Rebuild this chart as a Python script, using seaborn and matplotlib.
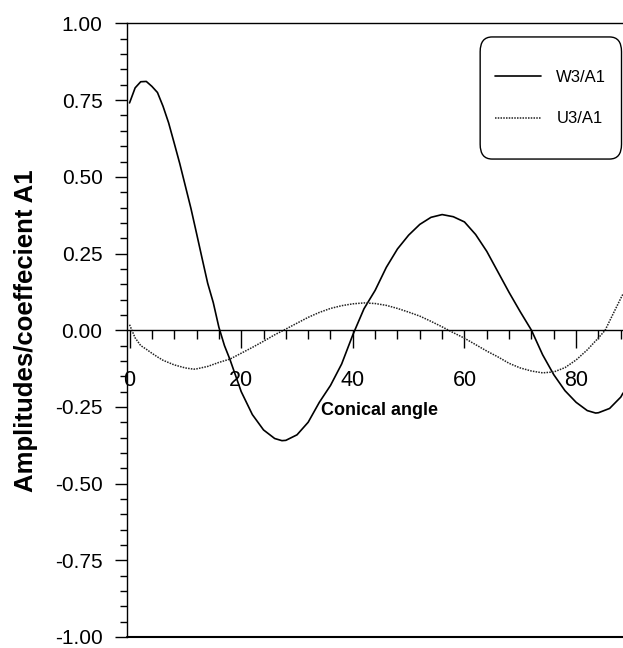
import matplotlib
matplotlib.use("Agg")
import matplotlib.pyplot as plt
from matplotlib.patches import FancyBboxPatch
from matplotlib.ticker import MultipleLocator, FormatStrFormatter
import seaborn as sns
import pandas as pd

# values
w3_angle = [0, 1, 2, 3, 4, 5, 6, 7, 8, 9, 10, 11, 12, 13, 14, 15, 16, 17, 18,
            20, 22, 24, 26, 27.3, 28, 30, 32, 34, 36, 38, 40, 42, 44, 46, 48,
            50, 52, 54, 56, 58, 60, 62, 64, 66, 68, 70, 71, 72, 74, 76, 78,
            80, 82, 83.5, 84, 86, 88, 88.4]
w3_a1 = [0.741, 0.790, 0.810, 0.811, 0.795, 0.775, 0.730, 0.676, 0.610,
         0.543, 0.470, 0.397, 0.316, 0.234, 0.153, 0.090, 0.010, -0.050,
         -0.096, -0.200, -0.275, -0.325, -0.353, -0.360, -0.359, -0.341,
         -0.300, -0.235, -0.180, -0.110, -0.015, 0.070, 0.130, 0.205, 0.265,
         0.310, 0.345, 0.368, 0.377, 0.370, 0.353, 0.312, 0.257, 0.190,
         0.123, 0.060, 0.030, 0.000, -0.080, -0.145, -0.197, -0.235, -0.262,
         -0.270, -0.269, -0.255, -0.218, -0.205]

u3_angle = [0, 1, 2, 3, 4, 5, 6, 8, 10, 11.5, 12, 14, 16, 18, 20, 22, 24, 26,
            27.6, 30, 32, 34, 36, 38, 40, 42, 44, 46, 48, 50, 52, 54, 56, 58,
            60, 62, 64, 66, 68, 70, 72, 74, 76, 78, 80, 82, 84, 85.2, 86, 88,
            88.4]
u3_a1 = [0.018, -0.025, -0.050, -0.062, -0.075, -0.087, -0.098, -0.113,
         -0.123, -0.127, -0.126, -0.118, -0.105, -0.094, -0.075, -0.056,
         -0.036, -0.015, 0.000, 0.023, 0.042, 0.058, 0.071, 0.080, 0.086,
         0.089, 0.087, 0.081, 0.071, 0.059, 0.046, 0.029, 0.011, -0.008,
         -0.026, -0.047, -0.068, -0.087, -0.108, -0.123, -0.133, -0.139,
         -0.136, -0.122, -0.097, -0.064, -0.025, 0.000, 0.030, 0.104, 0.118]

x_ticks = [0, 20, 40, 60, 80]


def main():
    sns.set_style("ticks")
    plt.rcParams["font.family"] = ["Liberation Sans", "DejaVu Sans"]
    for key in ["text.color", "axes.labelcolor", "xtick.color", "ytick.color"]:
        plt.rcParams[key] = "black"

    df_w = pd.DataFrame({"angle": w3_angle, "value": w3_a1})
    df_u = pd.DataFrame({"angle": u3_angle, "value": u3_a1})

    fig = plt.figure(figsize=(6.23, 6.48), dpi=100)
    ax = fig.add_axes([0.2039, 0.017, 0.7961, 0.9468])

    sns.lineplot(data=df_w, x="angle", y="value", ax=ax, color="black",
                 linewidth=1.2, label="W3/A1")
    sns.lineplot(data=df_u, x="angle", y="value", ax=ax, color="#222222",
                 linewidth=1.1, linestyle=(0, (1, 0.8)), label="U3/A1")

    ax.set_xlim(-0.45, 88.4)
    ax.set_ylim(-1.0, 1.0)

    # x axis sits on y = 0
    ax.spines["bottom"].set_position(("data", 0))
    ax.spines["right"].set_visible(False)
    for side in ["left", "top", "bottom"]:
        ax.spines[side].set_linewidth(1.0)
        ax.spines[side].set_color("black")
    ax.axhline(-1.0, color="black", linewidth=1.5, clip_on=False)

    ax.set_xticks(x_ticks)
    ax.xaxis.set_minor_locator(MultipleLocator(4))
    ax.yaxis.set_major_locator(MultipleLocator(0.25))
    ax.yaxis.set_minor_locator(MultipleLocator(0.05))
    ax.yaxis.set_major_formatter(FormatStrFormatter("%.2f"))

    ax.tick_params(axis="x", which="major", direction="out", length=13,
                   width=1, pad=16, labelsize=15.5)
    ax.tick_params(axis="x", which="minor", direction="out", length=6.5, width=1)
    ax.tick_params(axis="y", which="major", direction="out", length=8.6,
                   width=1, pad=9, labelsize=15)
    ax.tick_params(axis="y", which="minor", direction="out", length=5, width=1)

    ax.set_xlabel("Conical angle", fontsize=13, fontweight="bold")
    ax.xaxis.set_label_coords(0.51, 0.383)
    ax.set_ylabel("Amplitudes/coeffecient A1", fontsize=18.5, fontweight="bold")
    ax.yaxis.set_label_coords(-0.18, 0.5)

    # rounded legend box, taller than matplotlib's own frame
    box = FancyBboxPatch((0.712, 0.779), 0.285, 0.199, transform=ax.transAxes,
                         boxstyle="round,pad=0,rounding_size=0.024",
                         facecolor="white", edgecolor="black", linewidth=1.0,
                         zorder=4, clip_on=False)
    ax.add_patch(box)
    leg = ax.legend(loc="center", bbox_to_anchor=(0.8545, 0.8785),
                    borderaxespad=0, fontsize=12, frameon=False,
                    handlelength=2.75, handletextpad=0.9, labelspacing=1.6,
                    borderpad=0)
    leg.set_zorder(5)

    fig.savefig("out.png", dpi=100)


if __name__ == "__main__":
    main()
